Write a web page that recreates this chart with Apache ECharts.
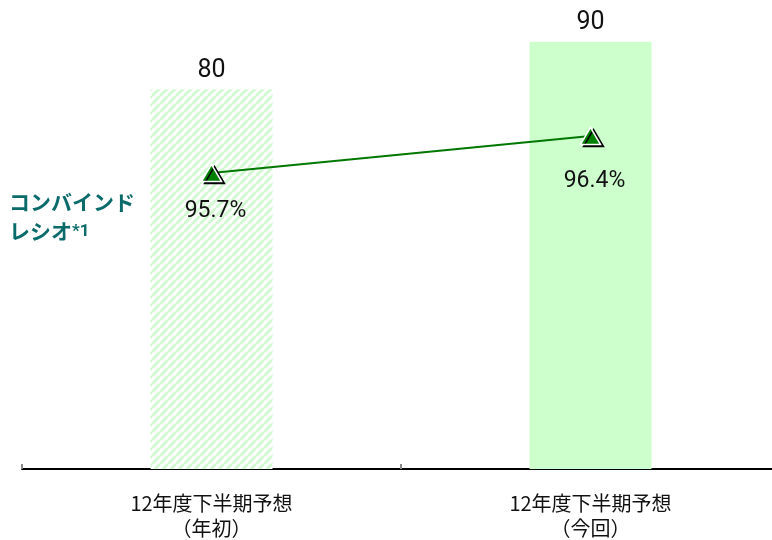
<!DOCTYPE html>
<html>
<head>
<meta charset="utf-8">
<script src="https://cdn.jsdelivr.net/npm/echarts@6/dist/echarts.min.js"></script>
<style>
  html, body { margin: 0; padding: 0; background: #fff; }
  #chart { width: 772px; height: 540px; }
</style>
</head>
<body>
<div id="chart"></div>
<script>
// Categories, bar values (premium) and combined ratio (%)
const categories = ['12年度下半期予想\n（年初）', '12年度下半期予想\n（今回）'];
const barValues = [80, 90];
const ratioValues = [95.7, 96.4];
const ratioLabelOffsets = [[4, 38], [4, 45]];

const NUM_FONT = 'Roboto, "Liberation Sans", sans-serif';
const JP_FONT = '"Noto Sans CJK JP", sans-serif';

// Diagonal hatch pattern for the first bar
function makeHatch() {
  const size = 8;
  const c = document.createElement('canvas');
  c.width = size; c.height = size;
  const ctx = c.getContext('2d');
  ctx.fillStyle = '#ffffff';
  ctx.fillRect(0, 0, size, size);
  ctx.strokeStyle = '#d2f8d2';
  ctx.lineWidth = 3;
  ctx.beginPath();
  for (let k = -1; k <= 1; k++) {
    ctx.moveTo(k * size, size);
    ctx.lineTo(k * size + size, 0);
  }
  ctx.stroke();
  return c;
}
const hatch = makeHatch();

const chart = echarts.init(document.getElementById('chart'));
chart.setOption({
  animation: false,
  grid: { left: 22, top: 18, width: 758, height: 451, outerBoundsMode: 'none', containLabel: false },
  xAxis: {
    type: 'category',
    data: categories,
    axisLine: { lineStyle: { color: '#000', width: 2 } },
    axisTick: { show: true, inside: true, length: 5, lineStyle: { color: '#888', width: 2 } },
    axisLabel: {
      color: '#111', fontFamily: JP_FONT, fontSize: 20, lineHeight: 25, margin: 22
    }
  },
  yAxis: [
    { type: 'value', min: 0, max: 95, show: false, splitLine: { show: false } },
    { type: 'value', min: 90.1, max: 98.632, show: false, splitLine: { show: false } }
  ],
  series: [
    {
      type: 'bar',
      barWidth: 122,
      data: barValues.map((v, i) => ({
        value: v,
        itemStyle: { color: i === 0 ? { image: hatch, repeat: 'repeat' } : '#ccffcc' }
      })),
      label: {
        show: true, position: 'top', distance: 6,
        color: '#111', fontSize: 25, fontFamily: NUM_FONT
      }
    },
    {
      type: 'line',
      yAxisIndex: 1,
      data: ratioValues.map((v, i) => ({
        value: v,
        label: { offset: ratioLabelOffsets[i] }
      })),
      symbol: 'triangle',
      symbolSize: [20, 17],
      lineStyle: { color: '#007700', width: 2 },
      itemStyle: {
        color: '#008000', borderColor: '#ffffff', borderWidth: 1.5,
        shadowColor: '#000', shadowOffsetX: 3, shadowOffsetY: 2, shadowBlur: 0
      },
      label: {
        show: true, position: 'inside',
        formatter: p => p.value.toFixed(1) + '%',
        color: '#111', fontSize: 23, fontFamily: NUM_FONT
      },
      z: 5
    }
  ],
  graphic: [
    {
      type: 'text', left: 9, top: 192,
      style: {
        text: '{a|コンバインド}\n{a|レシオ}{b|*1}',
        rich: {
          a: { fontSize: 21, fontWeight: 'bold', fill: '#0b6b6b', fontFamily: JP_FONT, lineHeight: 29 },
          b: { fontSize: 17, fontWeight: 'bold', fill: '#0b6b6b', fontFamily: NUM_FONT, lineHeight: 29 }
        }
      }
    }
  ]
});
</script>
</body>
</html>
